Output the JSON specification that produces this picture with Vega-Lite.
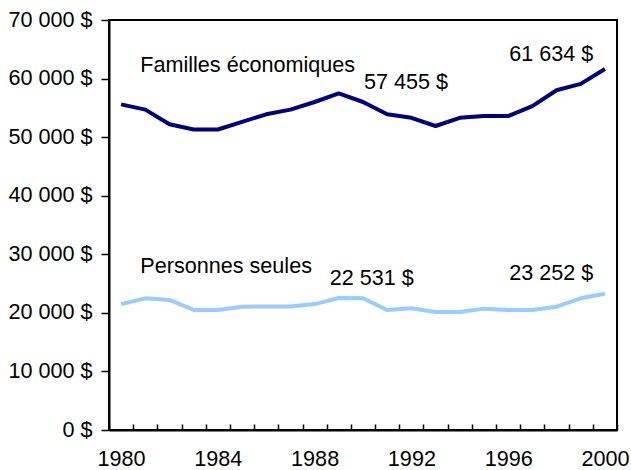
{
  "$schema": "https://vega.github.io/schema/vega-lite/v6.json",
  "width": 508,
  "height": 410,
  "autosize": "none",
  "padding": {"left": 109, "top": 20, "right": 14, "bottom": 40},
  "background": "white",
  "config": {
    "font": "Liberation Sans",
    "view": {"stroke": "black", "strokeWidth": 2},
    "axis": {"labelFont": "Liberation Sans", "labelFontSize": 21.6, "labelColor": "black", "domainColor": "black", "tickColor": "black", "grid": false, "title": null}
  },
  "datasets": {
    "series": [
      {"year": 1980, "value": 55600, "series": "Familles économiques"},
      {"year": 1981, "value": 54700, "series": "Familles économiques"},
      {"year": 1982, "value": 52200, "series": "Familles économiques"},
      {"year": 1983, "value": 51300, "series": "Familles économiques"},
      {"year": 1984, "value": 51300, "series": "Familles économiques"},
      {"year": 1985, "value": 52600, "series": "Familles économiques"},
      {"year": 1986, "value": 53900, "series": "Familles économiques"},
      {"year": 1987, "value": 54700, "series": "Familles économiques"},
      {"year": 1988, "value": 56000, "series": "Familles économiques"},
      {"year": 1989, "value": 57455, "series": "Familles économiques"},
      {"year": 1990, "value": 56000, "series": "Familles économiques"},
      {"year": 1991, "value": 53900, "series": "Familles économiques"},
      {"year": 1992, "value": 53300, "series": "Familles économiques"},
      {"year": 1993, "value": 51900, "series": "Familles économiques"},
      {"year": 1994, "value": 53300, "series": "Familles économiques"},
      {"year": 1995, "value": 53600, "series": "Familles économiques"},
      {"year": 1996, "value": 53600, "series": "Familles économiques"},
      {"year": 1997, "value": 55300, "series": "Familles économiques"},
      {"year": 1998, "value": 58000, "series": "Familles économiques"},
      {"year": 1999, "value": 59100, "series": "Familles économiques"},
      {"year": 2000, "value": 61634, "series": "Familles économiques"},
      {"year": 1980, "value": 21500, "series": "Personnes seules"},
      {"year": 1981, "value": 22480, "series": "Personnes seules"},
      {"year": 1982, "value": 22200, "series": "Personnes seules"},
      {"year": 1983, "value": 20500, "series": "Personnes seules"},
      {"year": 1984, "value": 20500, "series": "Personnes seules"},
      {"year": 1985, "value": 21060, "series": "Personnes seules"},
      {"year": 1986, "value": 21100, "series": "Personnes seules"},
      {"year": 1987, "value": 21100, "series": "Personnes seules"},
      {"year": 1988, "value": 21500, "series": "Personnes seules"},
      {"year": 1989, "value": 22531, "series": "Personnes seules"},
      {"year": 1990, "value": 22500, "series": "Personnes seules"},
      {"year": 1991, "value": 20500, "series": "Personnes seules"},
      {"year": 1992, "value": 20770, "series": "Personnes seules"},
      {"year": 1993, "value": 20150, "series": "Personnes seules"},
      {"year": 1994, "value": 20150, "series": "Personnes seules"},
      {"year": 1995, "value": 20720, "series": "Personnes seules"},
      {"year": 1996, "value": 20500, "series": "Personnes seules"},
      {"year": 1997, "value": 20500, "series": "Personnes seules"},
      {"year": 1998, "value": 21060, "series": "Personnes seules"},
      {"year": 1999, "value": 22480, "series": "Personnes seules"},
      {"year": 2000, "value": 23252, "series": "Personnes seules"}
    ],
    "notes": [
      {"year": 1981, "value": 61100, "label": "Familles économiques"},
      {"year": 1990, "value": 58220, "label": "57 455 $"},
      {"year": 1996, "value": 63000, "label": "61 634 $"},
      {"year": 1981, "value": 26800, "label": "Personnes seules"},
      {"year": 1989, "value": 24760, "label": "22 531 $"},
      {"year": 1996, "value": 25610, "label": "23 252 $"}
    ]
  },
  "encoding": {
    "x": {
      "field": "year",
      "type": "ordinal",
      "scale": {"type": "band", "paddingInner": 0, "paddingOuter": 0, "domain": [1980,1981,1982,1983,1984,1985,1986,1987,1988,1989,1990,1991,1992,1993,1994,1995,1996,1997,1998,1999,2000]},
      "axis": {
        "labelAngle": 0,
        "tickBand": "extent",
        "tickSize": -6,
        "tickWidth": 1.5,
        "domainWidth": 2,
        "labelPadding": 24,
        "labelBaseline": "top",
        "labelExpr": "datum.value % 4 == 0 ? datum.label : ''"
      }
    },
    "y": {
      "field": "value",
      "type": "quantitative",
      "scale": {"domain": [0, 70000], "nice": false, "zero": true},
      "axis": {
        "values": [0, 10000, 20000, 30000, 40000, 50000, 60000, 70000],
        "tickSize": 8,
        "tickWidth": 1.5,
        "domainWidth": 2,
        "labelPadding": 9,
        "labelExpr": "replace(format(datum.value, ',d'), ',', ' ') + ' $'"
      }
    }
  },
  "layer": [
    {
      "data": {"name": "series"},
      "mark": {"type": "line", "strokeWidth": 4, "strokeJoin": "round"},
      "encoding": {
        "color": {
          "field": "series",
          "type": "nominal",
          "scale": {"domain": ["Familles économiques", "Personnes seules"], "range": ["#000080", "#99CCFF"]},
          "legend": null
        }
      }
    },
    {
      "data": {"name": "notes"},
      "transform": [{"filter": {"field": "label", "oneOf": ["Familles économiques", "Personnes seules"]}}],
      "mark": {"type": "text", "align": "left", "baseline": "alphabetic", "dx": -5, "fontSize": 21.6, "font": "Liberation Sans", "color": "black"},
      "encoding": {"text": {"field": "label"}}
    },
    {
      "data": {"name": "notes"},
      "transform": [{"filter": {"field": "label", "oneOf": ["57 455 $", "61 634 $", "23 252 $"]}}],
      "mark": {"type": "text", "align": "left", "baseline": "alphabetic", "dx": 1, "fontSize": 21.6, "font": "Liberation Sans", "color": "black"},
      "encoding": {"text": {"field": "label"}}
    },
    {
      "data": {"name": "notes"},
      "transform": [{"filter": {"field": "label", "oneOf": ["22 531 $"]}}],
      "mark": {"type": "text", "align": "left", "baseline": "alphabetic", "dx": -9, "fontSize": 21.6, "font": "Liberation Sans", "color": "black"},
      "encoding": {"text": {"field": "label"}}
    }
  ]
}
